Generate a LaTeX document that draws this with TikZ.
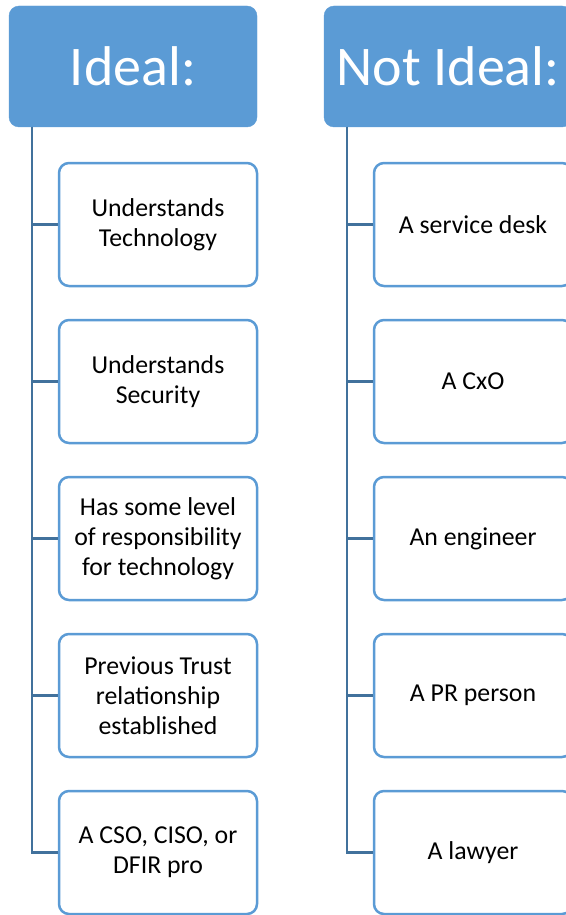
\documentclass[tikz,border=0pt]{standalone}
\usepackage{fontspec}
\setmainfont{Carlito}
\definecolor{accent}{HTML}{5B9BD5}
\definecolor{linecol}{HTML}{41719C}
\begin{document}
\begin{tikzpicture}[x=1pt,y=-1pt,
 header/.style={draw=accent, fill=accent, rounded corners=10pt, minimum width=248pt, minimum height=121pt, text=white, font=\fontsize{56}{60}\selectfont, inner sep=0pt},
 child/.style={draw=accent, line width=2.5pt, fill=white, rounded corners=10pt, minimum width=198pt, minimum height=123pt, align=center, font=\fontsize{25.8}{30}\selectfont, inner sep=0pt},
 conn/.style={draw=linecol, line width=2.5pt}]
\useasboundingbox (0,0) rectangle (565,915);
\node[header] (h1) at (133,66.5) {Ideal:};
\node[header] (h2) at (448,66.5) {Not Ideal:};
\coordinate (t1) at (32,127);
\coordinate (t2) at (347,127);
\node[child] (a1) at (158,224.5) {Understands\\Technology};
\node[child] (a2) at (158,381.5) {Understands\\Security};
\node[child] (a3) at (158,538.5) {Has some level\\of responsibility\\for technology};
\node[child] (a4) at (158,695.5) {Previous Trust\\relationship\\established};
\node[child] (a5) at (158,852.5) {A CSO, CISO, or\\DFIR pro};
\node[child] (b1) at (473,224.5) {A service desk};
\node[child] (b2) at (473,381.5) {A CxO};
\node[child] (b3) at (473,538.5) {An engineer};
\node[child] (b4) at (473,695.5) {A PR person};
\node[child] (b5) at (473,852.5) {A lawyer};
\foreach \i in {1,...,5} {
  \draw[conn] (t1) |- (a\i.west);
  \draw[conn] (t2) |- (b\i.west);
}
\end{tikzpicture}
\end{document}
